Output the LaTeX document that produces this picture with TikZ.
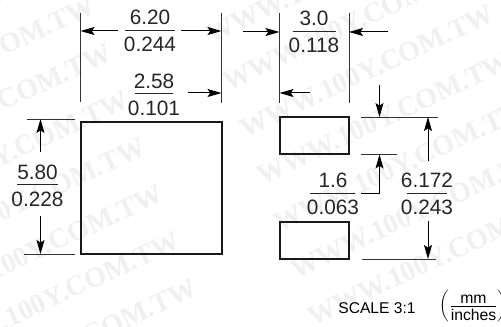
\documentclass[tikz,border=0pt]{standalone}
\usepackage{fontspec}
\setmainfont{Liberation Sans}
\newfontfamily\markfont{Liberation Serif}
\usetikzlibrary{arrows.meta}
\tikzset{
  dimline/.style={line width=0.75pt, -{Stealth[length=10.5pt, width=6pt, inset=2pt]}},
  extline/.style={line width=0.7pt, draw=black!80},
  outline/.style={line width=1.5pt, draw=black!90},
  rulebar/.style={line width=0.75pt, draw=black!85},
  numtext/.style={inner sep=0pt, font=\fontsize{15.6}{17}\selectfont, text=black!85},
  wmark/.style={inner sep=0pt, rotate=25, text=black!6, font=\markfont\bfseries\fontsize{21}{22}\selectfont},
}
\begin{document}
\begin{tikzpicture}[x=0.75pt, y=-0.75pt]
\useasboundingbox (0,0) rectangle (501,327);
\fill[white] (0,0) rectangle (501,327);
\foreach \k in {-1,...,6} \node[wmark, anchor=east] (markleft\k) at (93+17*\k,4+47*\k) {WWW.100Y.COM.TW};
\foreach \k in {-1,...,6} \node[wmark, anchor=west] (markright\k) at (207+17*\k,36+47*\k) {WWW.100Y.COM.TW};
\coordinate (wa) at (80.5,13); \coordinate (wb) at (80.5,102);
\coordinate (wc) at (221.5,13); \coordinate (wd) at (221.5,103);
\draw[extline] (wa) -- (wb);
\draw[extline] (wc) -- (wd);
\node[numtext] (widthtop) at (150,17) {6.20};
\node[numtext] (widthbot) at (150,44) {0.244};
\draw[rulebar] (125,31) coordinate (wl) -- (175,31) coordinate (wr);
\coordinate (wp) at (118,31); \coordinate (wq) at (181,31);
\draw[dimline] (wp) -- (wa |- wp);
\draw[dimline] (wq) -- (wc |- wq);
\node[numtext] (padtop) at (154,81) {2.58};
\node[numtext] (padbot) at (154,108) {0.101};
\draw[rulebar] (135,93.5) -- (173,93.5);
\coordinate (pq) at (188,93);
\draw[dimline] (pq) -- (wc |- pq);
\draw[outline] (80.5,122) rectangle (221.5,254);
\coordinate (ha) at (27,119); \coordinate (hb) at (75,119);
\coordinate (hc) at (24,254); \coordinate (hd) at (75,254);
\draw[extline] (ha) -- (hb);
\draw[extline] (hc) -- (hd);
\node[numtext] (heighttop) at (37.5,172) {5.80};
\node[numtext] (heightbot) at (37.5,199) {0.228};
\draw[rulebar] (17,185) -- (58,185);
\coordinate (hp) at (40.5,152); \coordinate (hq) at (40.5,216);
\draw[dimline] (hp) -- (hp |- ha);
\draw[dimline] (hq) -- (hq |- hc);
\coordinate (ra) at (279.5,13); \coordinate (rb) at (279.5,103);
\coordinate (rc) at (349,13); \coordinate (rd) at (349,103);
\draw[extline] (ra) -- (rb);
\draw[extline] (rc) -- (rd);
\node[numtext] (landtop) at (314,18) {3.0};
\node[numtext] (landbot) at (314,45) {0.118};
\draw[rulebar] (293,32) -- (336,32);
\coordinate (rp) at (243,32); \coordinate (rq) at (387.5,32);
\draw[dimline] (rp) -- (ra |- rp);
\draw[dimline] (rq) -- (rc |- rq);
\coordinate (rs) at (310,93);
\draw[dimline] (rs) -- (ra |- rs);
\draw[outline] (279.5,117) rectangle (348.5,154);
\draw[outline] (279.5,222) rectangle (348.5,259);
\coordinate (ta) at (361,117); \coordinate (tb) at (438,117);
\coordinate (tc) at (361,154.5); \coordinate (td) at (397,154.5);
\coordinate (te) at (362,259); \coordinate (tf) at (436,259);
\draw[extline] (ta) -- (tb);
\draw[extline] (tc) -- (td);
\draw[extline] (te) -- (tf);
\coordinate (gp) at (379.5,85);
\draw[dimline] (gp) -- (gp |- ta);
\coordinate (gq) at (361,193.5); \coordinate (gr) at (379.5,193.5);
\draw[dimline] (gq) -- (gr) -- (gr |- tc);
\node[numtext] (gaptop) at (333,180) {1.6};
\node[numtext] (gapbot) at (333,207) {0.063};
\draw[rulebar] (310,193.5) -- (355,193.5);
\node[numtext] (spantop) at (427,180) {6.172};
\node[numtext] (spanbot) at (427,207) {0.243};
\draw[rulebar] (407,193.5) -- (447,193.5);
\coordinate (sp) at (428,161); \coordinate (sq) at (428,221);
\draw[dimline] (sp) -- (sp |- ta);
\draw[dimline] (sq) -- (sq |- te);
\node[inner sep=0pt, font=\fontsize{11.7}{13}\selectfont] (scale) at (377,308) {SCALE 3:1};
\node[inner sep=0pt, font=\fontsize{11.8}{13}\selectfont] (unit) at (473.5,306) {$\left(\frac{\mbox{mm}}{\rule{0pt}{10.5pt}\mbox{inches}}\right)$};
\end{tikzpicture}
\end{document}
